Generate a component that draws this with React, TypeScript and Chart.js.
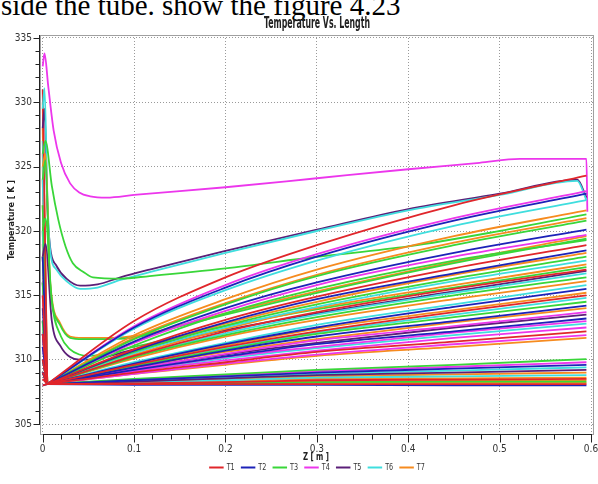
import { useEffect, useRef } from 'react';
import { Chart, registerables } from 'chart.js';

Chart.register(...registerables);

const PAGE_TEXT = 'side the tube. show the figure 4.23';
const CHART_TITLE = 'Temperature Vs. Length';
const X_TITLE = 'Z [ m ]';
const Y_TITLE = 'Temperature [ K ]';

const SERIES_NAMES = ['T1', 'T2', 'T3', 'T4', 'T5', 'T6', 'T7'];
const SERIES_COLORS = ['#e0262b', '#1c22b8', '#39d639', '#ec36ec', '#5b1f78', '#3fdede', '#f68b1f'];

const X_TICKS = [0, 0.1, 0.2, 0.3, 0.4, 0.5, 0.6];
const X_TICK_LABELS = ['0', '0.1', '0.2', '0.3', '0.4', '0.5', '0.6'];
const Y_TICKS = [305, 310, 315, 320, 325, 330, 335];
const Y_TICK_LABELS = ['305', '310', '315', '320', '325', '330', '335'];
const X_MINOR_STEP = 0.02;
const Y_MINOR_STEP = 1;
const X_RANGE = [-0.00295, 0.60328];
const Y_RANGE = [304.223, 335.233];

// Runs leaving the inlet cluster, sampled at FAN_X
const FAN_X = [0, 0.005, 0.1, 0.2, 0.3, 0.45, 0.595];

const T1_FAN = [
  [331, 308.1, 313.0, 316.4, 318.9, 322.0, 324.3],
  [312, 308.1, 310.8, 313.1, 314.9, 317.1, 318.9],
  [309, 308.1, 310.3, 312.2, 313.7, 315.5, 317.0],
  [315, 308.1, 309.6, 311.0, 312.2, 313.7, 315.0],
  [310, 308.1, 309.0, 309.8, 310.6, 311.4, 312.2],
  [308.5, 308.1, 308.15, 308.25, 308.4, 308.45, 308.5],
  [308, 308.1, 308.1, 308.1, 308.1, 308.1, 308.1],
];
const T2_FAN = [
  [310, 308.1, 312.5, 315.6, 318.0, 320.8, 322.9],
  [314, 308.1, 311.4, 314.0, 316.0, 318.3, 320.1],
  [309, 308.1, 310.7, 312.9, 314.7, 316.7, 318.5],
  [318, 308.1, 309.7, 311.2, 312.5, 314.1, 315.5],
  [311, 308.1, 309.4, 310.7, 311.8, 313.0, 314.2],
  [309, 308.1, 309.2, 310.25, 311.2, 312.2, 313.2],
  [312, 308.1, 308.4, 308.7, 309.0, 309.3, 309.6],
  [308, 308.1, 308.05, 308.05, 308.05, 308.0, 308.0],
];
const T3_FAN = [
  [322, 308.1, 311.6, 314.3, 316.5, 318.9, 320.8],
  [318, 308.1, 311.1, 313.6, 315.5, 317.7, 319.3],
  [313, 308.1, 310.6, 312.65, 314.3, 316.3, 318.0],
  [309, 308.1, 310.2, 311.9, 313.3, 315.0, 316.4],
  [316, 308.1, 309.5, 310.8, 312.0, 313.3, 314.5],
  [309, 308.1, 308.5, 308.85, 309.2, 309.6, 310.05],
  [310, 308.1, 308.1, 308.15, 308.25, 308.3, 308.3],
];
const T4_FAN = [
  [318, 308.1, 312.6, 315.8, 318.2, 321.0, 323.1],
  [315, 308.1, 311.3, 313.8, 315.8, 318.0, 319.7],
  [312, 308.1, 309.3, 310.45, 311.5, 312.6, 313.7],
  [309, 308.1, 309.2, 310.2, 311.0, 312.1, 313.0],
  [311, 308.1, 309.1, 309.95, 310.7, 311.7, 312.5],
  [316, 308.1, 308.9, 309.7, 310.4, 311.2, 311.9],
  [310, 308.1, 308.45, 308.8, 309.1, 309.45, 309.8],
];
const T5_FAN = [
  [312, 308.1, 309.3, 310.4, 311.3, 312.5, 313.5],
  [309, 308.1, 308.3, 308.55, 308.8, 309.0, 309.2],
];
const T6_FAN = [
  [327, 308.1, 312.4, 315.4, 317.7, 320.4, 322.4],
  [320, 308.1, 310.5, 312.5, 314.1, 316.1, 317.7],
  [313, 308.1, 310.25, 312.05, 313.5, 315.2, 316.7],
  [324, 308.1, 309.8, 311.3, 312.7, 314.3, 315.8],
  [309, 308.1, 309.6, 310.9, 312.1, 313.5, 314.8],
  [311, 308.1, 309.1, 310.1, 310.9, 311.9, 312.8],
  [310, 308.1, 308.35, 308.6, 308.9, 309.15, 309.4],
  [312, 308.1, 308.2, 308.4, 308.6, 308.7, 308.8],
];
const T7_FAN = [
  [330, 308.1, 311.9, 314.7, 317.0, 319.6, 321.6],
  [328, 308.1, 311.7, 314.4, 316.6, 319.1, 321.0],
  [325, 308.1, 310.65, 312.8, 314.5, 316.6, 318.3],
  [322, 308.1, 310.4, 312.4, 314.0, 315.8, 317.4],
  [319, 308.1, 310.1, 311.8, 313.1, 314.7, 316.1],
  [316, 308.1, 309.7, 311.1, 312.4, 313.85, 315.2],
  [313, 308.1, 309.4, 310.6, 311.6, 312.9, 314.0],
  [326, 308.1, 308.9, 309.6, 310.3, 311.0, 311.7],
  [324, 308.1, 308.25, 308.45, 308.7, 308.85, 309.0],
  [320, 308.1, 308.2, 308.3, 308.5, 308.55, 308.6],
  [310, 308.1, 308.15, 308.2, 308.3, 308.35, 308.4],
  [318, 308.1, 308.1, 308.15, 308.2, 308.2, 308.2],
];

// Curved runs
const PEAK_X = [0, 0.002, 0.006, 0.012, 0.02, 0.03, 0.04, 0.052, 0.07, 0.1, 0.2, 0.3, 0.4, 0.478, 0.522, 0.595, 0.596];
const T4_PEAK = [332.8, 333.8, 331.3, 327.8, 325.3, 323.7, 323.0, 322.7, 322.6, 322.8, 323.4, 324.1, 324.8, 325.3, 325.6, 325.6, 321.5];

const DIP_X = [0, 0.002, 0.005, 0.008, 0.015, 0.026, 0.041, 0.06, 0.085, 0.117, 0.2, 0.3, 0.4, 0.5, 0.585, 0.595];
const T6_DIP = [329.5, 331.1, 323, 318.6, 317.0, 316.1, 315.5, 315.6, 316.2, 316.8, 318.3, 320.0, 321.6, 322.8, 323.9, 322.4];
const T5_DIP = [328, 329.5, 322, 318.8, 317.3, 316.3, 315.75, 315.85, 316.4, 317.0, 318.45, 320.1, 321.7, 322.9, 324.0, 322.6];

const SHOULDER_X = [0, 0.003, 0.01, 0.017, 0.025, 0.033, 0.045, 0.055, 0.085, 0.117, 0.2, 0.3, 0.4, 0.5, 0.595];
const T3_SHOULDER = [326, 327, 323.5, 320.9, 318.8, 317.5, 316.8, 316.4, 316.3, 316.5, 317.1, 318.0, 318.8, 320.0, 321.3];

const KNEE_X = [0, 0.003, 0.008, 0.019, 0.03, 0.044, 0.074, 0.106, 0.139, 0.2, 0.3, 0.45, 0.595];
const T7_KNEE = [325, 326, 316.2, 312.85, 311.8, 311.7, 311.7, 311.9, 312.45, 313.6, 315.3, 317.6, 319.6];
const T3_KNEE = [324, 325.5, 316.0, 312.7, 311.7, 311.6, 311.6, 311.8, 312.4, 313.5, 315.2, 317.5, 319.4];

const LOW_X = [0, 0.003, 0.01, 0.02, 0.03, 0.04, 0.05, 0.1, 0.2, 0.3, 0.45, 0.595];
const T3_LOW = [320, 321, 314.5, 311.8, 310.8, 310.4, 310.3, 311.0, 312.6, 313.9, 315.6, 317.2];
const T5_LOW = [318, 319, 313, 311, 310.2, 310.0, 310.0, 310.8, 312.3, 313.6, 315.3, 316.9];

const FAN_GROUPS = [T1_FAN, T2_FAN, T3_FAN, T4_FAN, T5_FAN, T6_FAN, T7_FAN];
const CURVES: { s: number; x: number[]; y: number[] }[] = [
  { s: 2, x: LOW_X, y: T3_LOW },
  { s: 4, x: LOW_X, y: T5_LOW },
  { s: 2, x: KNEE_X, y: T3_KNEE },
  { s: 6, x: KNEE_X, y: T7_KNEE },
  { s: 2, x: SHOULDER_X, y: T3_SHOULDER },
  { s: 5, x: DIP_X, y: T6_DIP },
  { s: 4, x: DIP_X, y: T5_DIP },
  { s: 3, x: PEAK_X, y: T4_PEAK },
];

const NARROW = "'Liberation Sans Narrow', 'DejaVu Sans Condensed', 'Liberation Sans', sans-serif";

function buildDatasets() {
  const ds: any[] = [];
  const spikes: any[] = [];
  FAN_GROUPS.forEach((rows, s) => {
    rows.forEach((row) => {
      spikes.push({
        label: SERIES_NAMES[s],
        data: row.slice(0, 2).map((v, i) => ({ x: FAN_X[i], y: v })),
        borderColor: SERIES_COLORS[s],
        backgroundColor: SERIES_COLORS[s],
      });
      ds.push({
        label: SERIES_NAMES[s],
        data: row.slice(1).map((v, i) => ({ x: FAN_X[i + 1], y: v })),
        borderColor: SERIES_COLORS[s],
        backgroundColor: SERIES_COLORS[s],
      });
    });
  });
  CURVES.forEach((c) => {
    ds.push({
      label: SERIES_NAMES[c.s],
      data: c.y.map((v, i) => ({ x: c.x[i], y: v })),
      borderColor: SERIES_COLORS[c.s],
      backgroundColor: SERIES_COLORS[c.s],
    });
  });
  return [...ds, ...spikes];
}

const decorPlugin = {
  id: 'decor',
  afterDraw(chart: any) {
    const { ctx, chartArea: a } = chart;
    const xs = chart.scales.x;
    const ys = chart.scales.y;
    ctx.save();
    ctx.strokeStyle = '#a0a0a0';
    ctx.lineWidth = 1;
    ctx.strokeRect(Math.round(a.left) + 0.5, Math.round(a.top) + 0.5, Math.round(a.right - a.left) - 1, Math.round(a.bottom - a.top));
    ctx.strokeStyle = '#222';
    const axX = Math.round(a.left) - 0.5;
    const yTop = ys.getPixelForValue(Y_TICKS[Y_TICKS.length - 1]);
    const yBot = ys.getPixelForValue(Y_TICKS[0]);
    ctx.beginPath();
    ctx.moveTo(axX, Math.round(yTop) - 3);
    ctx.lineTo(axX, Math.round(yBot) + 1);
    for (let v = Y_TICKS[0]; v <= Y_TICKS[Y_TICKS.length - 1] + 1e-6; v += Y_MINOR_STEP) {
      const major = Y_TICKS.some((t) => Math.abs(t - v) < 1e-6);
      const py = Math.round(ys.getPixelForValue(v)) + 0.5;
      ctx.moveTo(axX, py);
      ctx.lineTo(axX - (major ? 6 : 4), py);
    }
    ctx.stroke();
    const axY = Math.round(a.bottom) + 0.5;
    const x0 = xs.getPixelForValue(X_TICKS[0]);
    const x1 = xs.getPixelForValue(X_TICKS[X_TICKS.length - 1]);
    ctx.beginPath();
    ctx.moveTo(Math.round(x0), axY);
    ctx.lineTo(Math.round(x1) + 1, axY);
    const nMinor = Math.round((X_TICKS[X_TICKS.length - 1] - X_TICKS[0]) / X_MINOR_STEP);
    for (let k = 0; k <= nMinor; k++) {
      const v = X_TICKS[0] + k * X_MINOR_STEP;
      const major = k % 5 === 0;
      const px = Math.round(xs.getPixelForValue(v)) + 0.5;
      ctx.moveTo(px, axY);
      ctx.lineTo(px, axY + (major ? 8 : 5));
    }
    ctx.stroke();

    const cx = (a.left + a.right) / 2;
    ctx.fillStyle = '#222';
    ctx.font = `bold 15px ${NARROW}`;
    ctx.textAlign = 'center';
    ctx.textBaseline = 'alphabetic';
    ctx.fillText(CHART_TITLE, cx, 28, 106);
    ctx.font = `bold 11px ${NARROW}`;
    ctx.textBaseline = 'middle';
    ctx.fillText(X_TITLE, cx - 1, 457, 26);
    ctx.save();
    ctx.translate(12, 220);
    ctx.rotate(-Math.PI / 2);
    ctx.font = `bold 9px ${NARROW}`;
    ctx.fillText(Y_TITLE, 0, 0, 80);
    ctx.restore();
    const step = 31.7;
    const lineW = 14.5;
    const total = step * (SERIES_NAMES.length - 1) + lineW + 3 + 8;
    let lx = cx - total / 2;
    const ly = 467.5;
    ctx.font = `9px ${NARROW}`;
    ctx.textAlign = 'left';
    SERIES_NAMES.forEach((name, i) => {
      ctx.strokeStyle = SERIES_COLORS[i];
      ctx.lineWidth = 2;
      ctx.beginPath();
      ctx.moveTo(lx, ly);
      ctx.lineTo(lx + lineW, ly);
      ctx.stroke();
      ctx.fillStyle = '#333';
      ctx.fillText(name, lx + lineW + 3, ly, 8);
      lx += step;
    });
    ctx.restore();
  },
};

export default function App() {
  const ref = useRef<HTMLCanvasElement | null>(null);
  useEffect(() => {
    if (!ref.current) return;
    const chart = new Chart(ref.current, {
      type: 'line',
      data: { datasets: buildDatasets() },
      options: {
        animation: false,
        responsive: false,
        devicePixelRatio: 1,
        layout: { padding: { top: 35, right: 4, left: 0, bottom: 0 } },
        elements: {
          point: { radius: 0, hoverRadius: 0 },
          line: { borderWidth: 1.8, cubicInterpolationMode: 'monotone', fill: false },
        },
        plugins: {
          legend: { display: false },
          title: { display: false },
          tooltip: { enabled: false },
        },
        events: [],
        scales: {
          x: {
            type: 'linear',
            min: X_RANGE[0],
            max: X_RANGE[1],
            afterBuildTicks: (s: any) => {
              s.ticks = X_TICKS.map((v) => ({ value: v }));
            },
            afterFit: (s: any) => {
              s.height = 50;
              s.paddingLeft = 0;
              s.paddingRight = 0;
            },
            grid: { color: '#9a9a9a', lineWidth: 1, drawTicks: false },
            border: { display: false, dash: [1, 2] },
            ticks: {
              autoSkip: false,
              maxRotation: 0,
              padding: 9,
              color: '#333',
              font: { family: NARROW, size: 10 },
              callback: (_v: any, i: number) => X_TICK_LABELS[i] ?? '',
            },
          },
          y: {
            type: 'linear',
            min: Y_RANGE[0],
            max: Y_RANGE[1],
            afterBuildTicks: (s: any) => {
              s.ticks = Y_TICKS.map((v) => ({ value: v }));
            },
            afterFit: (s: any) => {
              s.width = 40;
              s.paddingTop = 0;
              s.paddingBottom = 0;
            },
            grid: { color: '#9a9a9a', lineWidth: 1, drawTicks: false },
            border: { display: false, dash: [1, 2] },
            ticks: {
              autoSkip: false,
              padding: 8,
              color: '#333',
              font: { family: NARROW, size: 10 },
              callback: (_v: any, i: number) => Y_TICK_LABELS[i] ?? '',
            },
          },
        },
      } as any,
      plugins: [decorPlugin],
    });
    return () => chart.destroy();
  }, []);

  return (
    <div style={{ position: 'fixed', left: 0, top: 0, width: 598, height: 484, background: '#fff', overflow: 'hidden' }}>
      <div
        style={{
          position: 'absolute',
          left: 1,
          top: -11,
          fontFamily: "'Liberation Serif', 'Times New Roman', serif",
          fontSize: 29,
          whiteSpace: 'nowrap',
          color: '#000',
        }}
      >
        {PAGE_TEXT}
      </div>
      <canvas ref={ref} width={598} height={484} style={{ position: 'absolute', left: 0, top: 0, display: 'block' }} />
    </div>
  );
}
